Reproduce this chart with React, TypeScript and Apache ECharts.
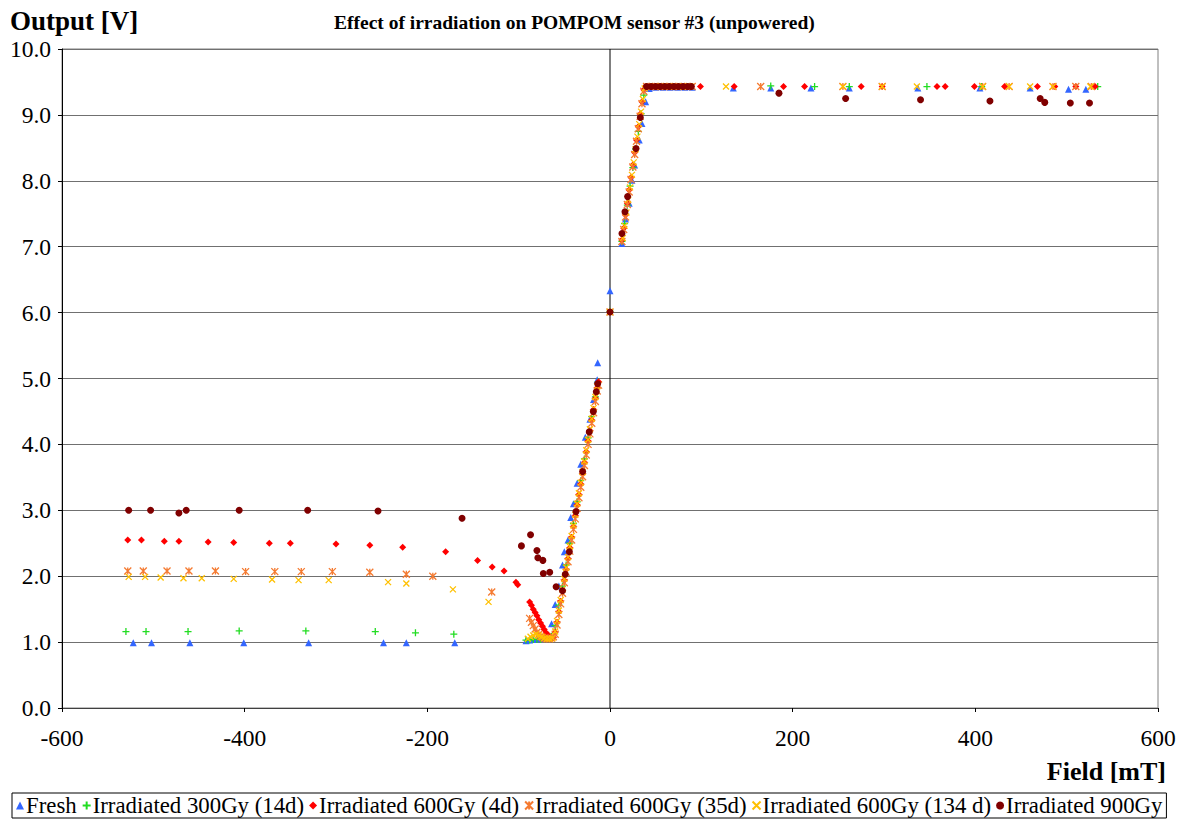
import React, { useEffect, useRef } from "react";
import * as echarts from "echarts";

const SERIF = "Liberation Serif";

const seriesNames = [
  "Fresh",
  "Irradiated 300Gy (14d)",
  "Irradiated 600Gy (4d)",
  "Irradiated 600Gy (35d)",
  "Irradiated 600Gy (134 d)",
  "Irradiated 900Gy",
];

const xTicks = [-600, -400, -200, 0, 200, 400, 600];
const yTicks = [0, 1, 2, 3, 4, 5, 6, 7, 8, 9, 10];

const fresh: number[][] = [
  [-522, 0.99], [-502, 0.99], [-460, 0.99], [-401, 0.99], [-330, 0.99], [-248, 0.99], [-223, 0.99], [-170, 0.99],
  [-92, 1.02], [-88, 1.03], [-84, 1.04], [-80, 1.05], [-76, 1.05], [-72, 1.06], [-68, 1.08], [-64, 1.28],
  [-60, 1.57], [-56, 1.85], [-52, 2.17], [-50, 2.37], [-46, 2.55], [-43, 2.89], [-40, 3.1], [-36, 3.41],
  [-32, 3.7], [-27, 4.11], [-22, 4.38], [-18, 4.68], [-14, 4.98], [-13.5, 5.24], [0, 6.33],
  [13, 7.05], [17, 7.42], [21, 7.66], [24, 8.01], [27, 8.24], [32, 8.62], [35, 8.87], [39, 9.2], [43, 9.4],
  [50, 9.42], [58, 9.42], [66, 9.42], [74, 9.42], [82, 9.42], [90, 9.42],
  [135, 9.41], [176, 9.41], [220, 9.41], [262, 9.41], [337, 9.41], [405, 9.41], [460, 9.41], [502, 9.39], [521, 9.39],
];

const irr300: number[][] = [
  [-530, 1.16], [-508, 1.16], [-462, 1.16], [-406, 1.17], [-333, 1.17], [-257, 1.16], [-213, 1.14], [-171, 1.12],
  [-92, 1.03], [-88, 1.03], [-84, 1.04], [-80, 1.04], [-76, 1.04], [-72, 1.05], [-68, 1.06], [-64, 1.09],
  [-60, 1.25], [-56, 1.56], [-52, 1.85], [-48, 2.17], [-44, 2.5], [-40, 2.8], [-36, 3.13], [-32, 3.45],
  [-28, 3.78], [-24, 4.1], [-20, 4.42], [-16, 4.72], [-13, 4.95], [0, 6.02],
  [13, 7.08], [16, 7.35], [19, 7.63], [22, 7.92], [25, 8.2], [28, 8.48], [31, 8.75], [34, 9.02], [37, 9.3], [40, 9.43],
  [46, 9.43], [54, 9.43], [62, 9.43], [70, 9.43], [78, 9.43], [86, 9.43],
  [176, 9.44], [224, 9.43], [262, 9.43], [347, 9.43], [407, 9.43], [534, 9.43],
];

const irr600d4: number[][] = [
  [-528, 2.55], [-513, 2.55], [-488, 2.53], [-472, 2.53], [-440, 2.52], [-412, 2.51], [-373, 2.5], [-350, 2.5],
  [-300, 2.49], [-263, 2.47], [-227, 2.44], [-180, 2.37], [-145, 2.24], [-129, 2.14], [-116, 2.08], [-103, 1.91], [-101, 1.87],
  [-88, 1.61], [-86, 1.56], [-84, 1.5], [-82, 1.45], [-80, 1.4], [-78, 1.34], [-76, 1.29], [-74, 1.24],
  [-72, 1.19], [-70, 1.14], [-68, 1.11], [-66, 1.08], [-64, 1.06], [-62, 1.07],
  [-60, 1.15], [-58, 1.3], [-56, 1.46], [-54, 1.62], [-52, 1.78], [-50, 1.94], [-48, 2.1], [-46, 2.27],
  [-44, 2.43], [-42, 2.59], [-40, 2.75], [-38, 2.92], [-36, 3.08], [-34, 3.24], [-32, 3.4], [-30, 3.56],
  [-28, 3.72], [-26, 3.89], [-24, 4.05], [-22, 4.21], [-20, 4.37], [-18, 4.53], [-16, 4.7], [-14, 4.86],
  [-12.5, 4.95], [0, 6.01],
  [13, 7.1], [15, 7.28], [17, 7.48], [19, 7.66], [21, 7.86], [23, 8.05], [25, 8.24], [27, 8.43], [29, 8.62],
  [31, 8.82], [33, 9.01], [35, 9.2], [37, 9.38], [39, 9.43], [44, 9.43], [49, 9.43], [54, 9.43], [59, 9.43],
  [64, 9.43], [69, 9.43], [74, 9.43], [79, 9.43], [84, 9.43], [89, 9.43], [99, 9.43],
  [136, 9.43], [190, 9.43], [213, 9.43], [275, 9.43], [298, 9.43], [358, 9.43], [367, 9.43], [399, 9.43],
  [432, 9.43], [468, 9.43], [487, 9.43], [510, 9.43], [531, 9.43],
];

const irr600d35: number[][] = [
  [-528, 2.08], [-511, 2.08], [-485, 2.08], [-461, 2.08], [-432, 2.08], [-399, 2.07], [-367, 2.07], [-338, 2.07],
  [-304, 2.07], [-263, 2.06], [-223, 2.03], [-194, 2.0], [-129.5, 1.76],
  [-88, 1.36], [-86, 1.3], [-84, 1.25], [-82, 1.2], [-80, 1.15], [-78, 1.12], [-76, 1.09], [-74, 1.07],
  [-72, 1.06], [-70, 1.05], [-68, 1.05], [-66, 1.05], [-64, 1.06], [-62, 1.08],
  [-60, 1.12], [-58, 1.26], [-56, 1.42], [-54, 1.58], [-52, 1.74], [-50, 1.9], [-48, 2.06], [-46, 2.22],
  [-44, 2.38], [-42, 2.55], [-40, 2.71], [-38, 2.87], [-36, 3.03], [-34, 3.19], [-32, 3.35], [-30, 3.51],
  [-28, 3.68], [-26, 3.84], [-24, 4.0], [-22, 4.16], [-20, 4.32], [-18, 4.48], [-16, 4.65], [-14, 4.81],
  [-12.5, 4.9], [0, 6.01],
  [13, 7.08], [15, 7.26], [17, 7.45], [19, 7.64], [21, 7.83], [23, 8.02], [25, 8.21], [27, 8.4], [29, 8.6],
  [31, 8.79], [33, 8.98], [35, 9.17], [37, 9.36], [40, 9.43], [45, 9.43], [50, 9.43], [55, 9.43], [60, 9.43],
  [65, 9.43], [70, 9.43], [75, 9.43], [80, 9.43], [85, 9.43], [90, 9.43],
  [165, 9.43], [255, 9.43], [298, 9.43], [408, 9.43], [437, 9.43], [485, 9.43], [510, 9.43], [527, 9.43],
];

const irr600d134: number[][] = [
  [-527, 1.99], [-509, 1.99], [-492, 1.98], [-467, 1.97], [-447, 1.97], [-412, 1.96], [-370, 1.95], [-341, 1.94],
  [-308, 1.94], [-243, 1.91], [-223, 1.89], [-172, 1.8], [-133, 1.61],
  [-90, 1.05], [-87, 1.08], [-84, 1.1], [-81, 1.12], [-78, 1.1], [-75, 1.08], [-72, 1.06], [-69, 1.05],
  [-66, 1.05], [-63, 1.06],
  [-60, 1.16], [-58, 1.32], [-56, 1.48], [-54, 1.64], [-52, 1.8], [-50, 1.96], [-48, 2.13], [-46, 2.29],
  [-44, 2.45], [-42, 2.61], [-40, 2.77], [-38, 2.93], [-36, 3.1], [-34, 3.26], [-32, 3.42], [-30, 3.58],
  [-28, 3.74], [-26, 3.91], [-24, 4.07], [-22, 4.23], [-20, 4.39], [-18, 4.55], [-16, 4.72], [-14, 4.88], [0, 6.01],
  [14, 7.13], [16, 7.32], [18, 7.52], [20, 7.71], [22, 7.9], [24, 8.09], [26, 8.28], [28, 8.48], [30, 8.67],
  [32, 8.86], [34, 9.05], [36, 9.24], [38, 9.4], [42, 9.43], [48, 9.43], [56, 9.43], [64, 9.43], [72, 9.43],
  [80, 9.43], [88, 9.43],
  [127, 9.43], [255, 9.43], [298, 9.43], [336, 9.43], [408, 9.43], [437, 9.43], [460, 9.43], [485, 9.43], [526, 9.43],
];

const irr900: number[][] = [
  [-527, 3.0], [-503, 3.0], [-472, 2.96], [-464, 3.0], [-406, 3.0], [-331, 3.0], [-254, 2.99], [-162, 2.88],
  [-97, 2.46], [-87, 2.63], [-80, 2.39], [-79, 2.28], [-73.5, 2.24], [-73, 2.04], [-66, 2.06], [-59, 1.84],
  [-52, 1.78], [-49, 2.03], [-44.5, 2.37], [-37.2, 2.98], [-30, 3.59], [-22.7, 4.19], [-18.3, 4.5],
  [-15, 4.8], [-13.5, 4.92], [0, 6.01],
  [13.1, 7.2], [16.4, 7.53], [19.3, 7.76], [28.5, 8.49], [33.2, 8.96],
  [40, 9.43], [45, 9.43], [50, 9.43], [55, 9.43], [60, 9.43], [65, 9.43], [70, 9.43], [75, 9.43], [80, 9.43],
  [85, 9.43], [89, 9.43],
  [185, 9.33], [258, 9.25], [340, 9.23], [416, 9.21], [471, 9.25], [476, 9.19], [504, 9.18], [525, 9.18],
];

const PLUS = "path://M5 0 L5 10 M0 5 L10 5";
const CROSS = "path://M0 0 L10 10 M10 0 L0 10";
const STAR = "path://M0 0 L10 10 M10 0 L0 10 M5 0 L5 10";

export default function App() {
  const ref = useRef<HTMLDivElement>(null);
  useEffect(() => {
    const chart = echarts.init(ref.current!, null, { renderer: "svg" });
    const colors = ["#3366FF", "#22DD22", "#FF0000", "#F57A30", "#FFC000", "#800000"];
    const datasets = [fresh, irr300, irr600d4, irr600d35, irr600d134, irr900];
    const symbols = ["triangle", PLUS, "diamond", STAR, CROSS, "circle"];
    const sizes = [7, 7, 7, 7, 6, 7];
    const stroked = [false, true, false, true, true, false];
    const scatter = seriesNames.map((name, i) => ({
      name,
      type: "scatter",
      data: datasets[i],
      symbol: symbols[i],
      symbolSize: sizes[i],
      z: 3 + i,
      itemStyle: stroked[i]
        ? { color: colors[i], borderColor: colors[i], borderWidth: 1.3, opacity: 1 }
        : { color: colors[i], opacity: 1 },
    }));
    const option: any = {
      animation: false,
      backgroundColor: "#fff",
      textStyle: { fontFamily: SERIF },
      title: [
        {
          text: "Output [V]",
          left: 5,
          top: 2,
          textStyle: { fontFamily: SERIF, fontWeight: "bold", fontSize: 27, color: "#000" },
        },
        {
          text: "Effect of irradiation on POMPOM sensor #3 (unpowered)",
          left: 329,
          top: 7,
          textStyle: { fontFamily: SERIF, fontWeight: "bold", fontSize: 19.5, color: "#000" },
        },
      ],
      graphic: [
        {
          type: "text",
          right: 14,
          top: 758,
          style: { text: "Field [mT]", font: `bold 26px ${SERIF}`, fill: "#000" },
        },
      ],
      legend: {
        data: seriesNames,
        left: 12,
        top: 793,
        orient: "horizontal",
        itemWidth: 8,
        itemHeight: 8,
        itemGap: 5,
        padding: [1, 4, 1, 4],
        borderColor: "#000",
        borderWidth: 1,
        borderRadius: 0,
        textStyle: { fontFamily: SERIF, fontSize: 22.8, color: "#000", padding: [0, 0, 0, -3] },
      },
      grid: {
        left: 62,
        right: 22,
        top: 49,
        bottom: 112,
        show: true,
        borderColor: "#808080",
        borderWidth: 1,
        backgroundColor: "#fff",
      },
      xAxis: {
        type: "value",
        min: xTicks[0],
        max: xTicks[xTicks.length - 1],
        interval: 200,
        axisLine: { show: true, onZero: false, lineStyle: { color: "#404040", width: 1 } },
        axisTick: { show: true, length: 4, lineStyle: { color: "#000" } },
        axisLabel: { fontFamily: SERIF, fontSize: 23.5, color: "#000", margin: 18 },
        splitLine: { show: false },
      },
      yAxis: {
        type: "value",
        min: yTicks[0],
        max: yTicks[yTicks.length - 1],
        interval: 1,
        axisLine: { show: true, onZero: false, lineStyle: { color: "#000", width: 1 } },
        axisTick: { show: true, length: 4, lineStyle: { color: "#000" } },
        axisLabel: {
          fontFamily: SERIF,
          fontSize: 23.5,
          color: "#000",
          margin: 11,
          formatter: (v: number) => v.toFixed(1),
        },
        splitLine: { show: true, lineStyle: { color: "#707070", width: 1 } },
      },
      series: [
        {
          name: "zeroLine",
          type: "line",
          data: [
            [0, yTicks[0]],
            [0, yTicks[yTicks.length - 1]],
          ],
          showSymbol: false,
          silent: true,
          z: 1,
          lineStyle: { color: "#000", width: 1 },
        },
        ...scatter,
      ],
    };
    chart.setOption(option);
    return () => chart.dispose();
  }, []);
  return (
    <div
      ref={ref}
      style={{ position: "fixed", left: 0, top: 0, width: 1180, height: 820, background: "#fff" }}
    />
  );
}
